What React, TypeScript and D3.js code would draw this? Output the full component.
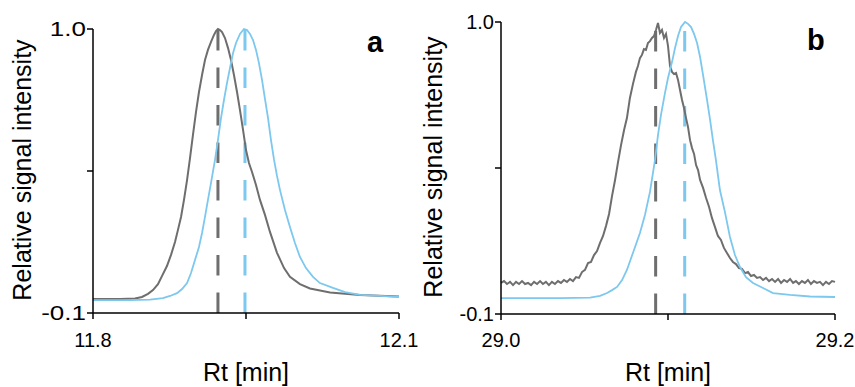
import React from "react";
import * as d3 from "d3";

// panel a: [Rt (min), relative intensity]
const aGray: [number, number][] = [
  [11.8, -0.046], [11.8265, -0.046], [11.8412, -0.044], [11.848, -0.038], [11.8539, -0.026],
  [11.8588, -0.011], [11.8637, 0.012], [11.8676, 0.043], [11.8725, 0.082], [11.8765, 0.125],
  [11.8804, 0.175], [11.8833, 0.222], [11.8863, 0.272], [11.8892, 0.338], [11.8922, 0.415],
  [11.8951, 0.5], [11.898, 0.59], [11.901, 0.679], [11.9039, 0.756], [11.9069, 0.822],
  [11.9098, 0.88], [11.9127, 0.919], [11.9157, 0.95], [11.9186, 0.977], [11.9206, 0.992],
  [11.9225, 1.0], [11.9245, 0.996], [11.9265, 0.988], [11.9294, 0.965], [11.9324, 0.926],
  [11.9353, 0.88], [11.9382, 0.822], [11.9412, 0.756], [11.9441, 0.686], [11.9471, 0.609],
  [11.95, 0.531], [11.9529, 0.481], [11.9559, 0.446], [11.9598, 0.396], [11.9637, 0.338],
  [11.9686, 0.28], [11.9735, 0.214], [11.9804, 0.133], [11.9873, 0.074], [11.9931, 0.04],
  [12.0029, 0.012], [12.0127, -0.005], [12.0324, -0.021], [12.0618, -0.03], [12.1, -0.036],
];
const aBlue: [number, number][] = [
  [11.8, -0.05], [11.8363, -0.05], [11.8559, -0.048], [11.8686, -0.042], [11.8755, -0.034],
  [11.8824, -0.023], [11.8873, -0.007], [11.8922, 0.016], [11.8961, 0.055], [11.9, 0.105],
  [11.9039, 0.156], [11.9069, 0.21], [11.9098, 0.272], [11.9127, 0.338], [11.9157, 0.404],
  [11.9196, 0.493], [11.9225, 0.57], [11.9255, 0.655], [11.9284, 0.725], [11.9314, 0.791],
  [11.9343, 0.849], [11.9373, 0.907], [11.9402, 0.946], [11.9441, 0.981], [11.948, 1.0],
  [11.951, 0.996], [11.9539, 0.981], [11.9569, 0.957], [11.9598, 0.919], [11.9627, 0.868],
  [11.9657, 0.803], [11.9686, 0.729], [11.9716, 0.655], [11.9745, 0.57], [11.9775, 0.493],
  [11.9804, 0.431], [11.9833, 0.377], [11.9882, 0.299], [11.9931, 0.233], [11.998, 0.171],
  [12.0029, 0.117], [12.0088, 0.074], [12.0157, 0.04], [12.0225, 0.016], [12.0353, -0.003],
  [12.0471, -0.019], [12.0618, -0.03], [12.0814, -0.034], [12.1, -0.038],
];

// panel b
const bGray: [number, number][] = [
  [29.0, 0.017], [29.0018, 0.024], [29.0036, 0.013], [29.0054, 0.021], [29.0072, 0.009],
  [29.009, 0.021], [29.0108, 0.013], [29.0126, 0.024], [29.0144, 0.013], [29.0162, 0.017],
  [29.018, 0.009], [29.0198, 0.021], [29.0216, 0.013], [29.0234, 0.024], [29.0251, 0.013],
  [29.0269, 0.021], [29.0287, 0.009], [29.0305, 0.021], [29.0323, 0.013], [29.0341, 0.024],
  [29.0359, 0.017], [29.0377, 0.028], [29.0395, 0.021], [29.0413, 0.032], [29.0431, 0.024],
  [29.0449, 0.039], [29.0467, 0.036], [29.0485, 0.058], [29.0503, 0.066], [29.0521, 0.092],
  [29.0539, 0.096], [29.0557, 0.122], [29.0575, 0.137], [29.0593, 0.168], [29.0611, 0.194],
  [29.0629, 0.232], [29.0647, 0.277], [29.0665, 0.345], [29.0683, 0.405], [29.0701, 0.473],
  [29.0719, 0.537], [29.0737, 0.593], [29.0754, 0.638], [29.0772, 0.714], [29.079, 0.766],
  [29.0808, 0.812], [29.082, 0.834], [29.0832, 0.864], [29.0844, 0.876], [29.0856, 0.898],
  [29.0868, 0.895], [29.088, 0.921], [29.0892, 0.928], [29.0904, 0.94], [29.0916, 0.947],
  [29.0928, 0.97], [29.094, 0.996], [29.0952, 0.959], [29.0964, 0.97], [29.0976, 0.94],
  [29.0988, 0.955], [29.1, 0.91], [29.1012, 0.834], [29.1024, 0.812], [29.1036, 0.804],
  [29.1048, 0.808], [29.106, 0.782], [29.1072, 0.744], [29.1084, 0.706], [29.1096, 0.676],
  [29.1108, 0.638], [29.112, 0.604], [29.1132, 0.555], [29.1144, 0.525], [29.1156, 0.503],
  [29.1168, 0.461], [29.118, 0.442], [29.1192, 0.405], [29.121, 0.375], [29.1228, 0.337],
  [29.1246, 0.303], [29.1263, 0.262], [29.1281, 0.228], [29.1299, 0.194], [29.1317, 0.179],
  [29.1335, 0.149], [29.1353, 0.13], [29.1371, 0.111], [29.1389, 0.096], [29.1407, 0.088],
  [29.1425, 0.073], [29.1443, 0.07], [29.1461, 0.054], [29.1479, 0.058], [29.1497, 0.043],
  [29.1515, 0.047], [29.1533, 0.036], [29.1551, 0.039], [29.1569, 0.028], [29.1587, 0.036],
  [29.1605, 0.024], [29.1623, 0.032], [29.1641, 0.021], [29.1659, 0.032], [29.1677, 0.017],
  [29.1695, 0.028], [29.1713, 0.021], [29.1731, 0.032], [29.1749, 0.017], [29.1766, 0.024],
  [29.1784, 0.013], [29.1802, 0.024], [29.182, 0.017], [29.1838, 0.028], [29.1856, 0.013],
  [29.1874, 0.024], [29.1892, 0.017], [29.191, 0.021], [29.1928, 0.009], [29.1946, 0.021],
  [29.1964, 0.013], [29.1982, 0.024], [29.2, 0.021],
];
const bBlue: [number, number][] = [
  [29.0, -0.04], [29.0353, -0.04], [29.0533, -0.038], [29.0593, -0.032], [29.0635, -0.021],
  [29.0665, -0.01], [29.0695, 0.002], [29.0725, 0.028], [29.0754, 0.066], [29.079, 0.13],
  [29.0832, 0.205], [29.0862, 0.273], [29.0892, 0.36], [29.0922, 0.48], [29.094, 0.574],
  [29.0958, 0.65], [29.0982, 0.733], [29.1, 0.789], [29.1024, 0.849], [29.1042, 0.902],
  [29.106, 0.947], [29.1078, 0.981], [29.1102, 1.0], [29.112, 0.993], [29.1138, 0.981],
  [29.1156, 0.955], [29.1174, 0.921], [29.1192, 0.868], [29.121, 0.8], [29.1234, 0.706],
  [29.1252, 0.631], [29.1269, 0.555], [29.1287, 0.48], [29.1311, 0.367], [29.1341, 0.284],
  [29.1371, 0.19], [29.1401, 0.122], [29.1431, 0.077], [29.1467, 0.039], [29.1509, 0.017],
  [29.1569, -0.002], [29.1629, -0.021], [29.1731, -0.028], [29.185, -0.034], [29.2, -0.036],
];

const aPeaks = [11.9225, 11.949];
const bPeaks = [29.0926, 29.11];
const aXTicks = [11.8, 11.95, 12.1];
const bXTicks = [29.0, 29.1, 29.2];
const yTicks = [-0.1, 0.45, 1.0];
const xLabelled = (v: number, d: number[]) => v === d[0] || v === d[1];

const GRAY = "#6e6e6e";
const BLUE = "#7cc8ee";
const FONT = "'Liberation Sans', Arial, sans-serif";

type PanelProps = {
  gray: [number, number][];
  blue: [number, number][];
  peaks: number[];
  xTicks: number[];
  xDomain: [number, number];
  left: number;
  right: number;
  top: number;
  bottom: number;
  label: string;
  labelX: number;
  labelY: number;
  titleX: number;
  titleY: number;
  yLabelStretch: number;
};

const Panel = (p: PanelProps) => {
  const x = d3.scaleLinear().domain(p.xDomain).range([p.left, p.right]);
  const y = d3.scaleLinear().domain([-0.1, 1.0]).range([p.bottom, p.top]);
  const line = d3
    .line<[number, number]>()
    .x((d) => x(d[0]))
    .y((d) => y(d[1]));

  return (
    <g fontFamily={FONT}>
      {/* peak markers, drawn from the baseline up */}
      {p.peaks.map((t, i) => (
        <line
          key={i}
          x1={x(t)}
          x2={x(t)}
          y1={y(-0.1)}
          y2={y(1.0)}
          stroke={i === 0 ? GRAY : BLUE}
          strokeWidth={3}
          strokeDasharray="20.5,17"
        />
      ))}
      <path d={line(p.gray) ?? ""} fill="none" stroke={GRAY} strokeWidth={2} />
      <path d={line(p.blue) ?? ""} fill="none" stroke={BLUE} strokeWidth={1.8} />

      {/* y axis */}
      <line x1={p.left} x2={p.left} y1={p.top} y2={p.bottom} stroke="#000" strokeWidth={1.5} />
      {yTicks.map((v) => (
        <g key={v}>
          <line x1={p.left - 6} x2={p.left} y1={y(v)} y2={y(v)} stroke="#000" strokeWidth={1.5} />
          {v !== 0.45 && (
            <text
              transform={`translate(${p.left - 7},${y(v)}) scale(${p.yLabelStretch},1)`}
              dy="0.36em"
              textAnchor="end"
              fontSize={20}
            >
              {v.toFixed(1)}
            </text>
          )}
        </g>
      ))}

      {/* x axis */}
      <line x1={p.left} x2={p.right} y1={p.bottom} y2={p.bottom} stroke="#000" strokeWidth={1.5} />
      {p.xTicks.map((v) => (
        <g key={v}>
          <line x1={x(v)} x2={x(v)} y1={p.bottom} y2={p.bottom + 6} stroke="#000" strokeWidth={1.5} />
          {xLabelled(v, p.xDomain) && (
            <text x={x(v)} y={347} textAnchor="middle" fontSize={20}>
              {v.toFixed(1)}
            </text>
          )}
        </g>
      ))}

      <text x={(p.left + p.right) / 2} y={381} textAnchor="middle" fontSize={25}>
        Rt [min]
      </text>
      <text
        transform={`translate(${p.titleX},${p.titleY}) rotate(-90)`}
        textAnchor="middle"
        fontSize={25}
      >
        Relative signal intensity
      </text>
      <text x={p.labelX} y={p.labelY} fontSize={29} fontWeight="bold">
        {p.label}
      </text>
    </g>
  );
};

const App = () => {
  return (
    <svg
      width={855}
      height={387}
      style={{ position: "absolute", left: 0, top: 0, background: "#fff" }}
    >
      <Panel
        gray={aGray}
        blue={aBlue}
        peaks={aPeaks}
        xTicks={aXTicks}
        xDomain={[11.8, 12.1]}
        left={93}
        right={399}
        top={29}
        bottom={313}
        label="a"
        labelX={367}
        labelY={52}
        titleX={31}
        titleY={170}
        yLabelStretch={1.3}
      />
      <Panel
        gray={bGray}
        blue={bBlue}
        peaks={bPeaks}
        xTicks={bXTicks}
        xDomain={[29.0, 29.2]}
        left={501}
        right={835}
        top={22}
        bottom={314}
        label="b"
        labelX={807}
        labelY={50}
        titleX={442}
        titleY={167}
        yLabelStretch={1}
      />
    </svg>
  );
};

export default App;
